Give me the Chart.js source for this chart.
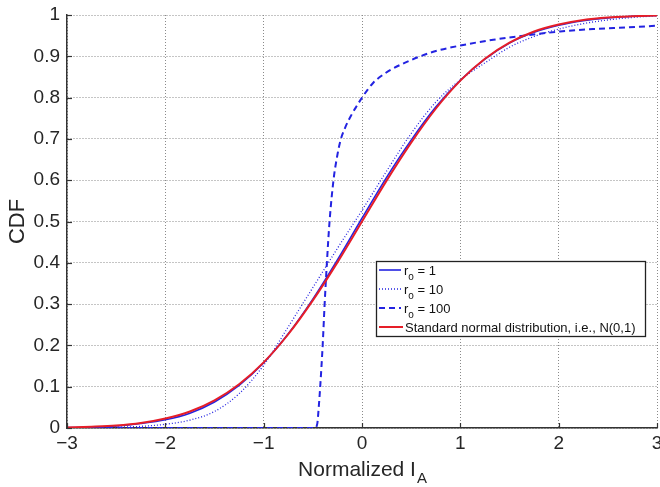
<!DOCTYPE html>
<html>
<head>
<meta charset="utf-8">
<script src="https://cdn.jsdelivr.net/npm/chart.js@4/dist/chart.umd.min.js"></script>
<style>
html,body{margin:0;padding:0;background:#fff;}
#c{display:block;}
</style>
</head>
<body>
<canvas id="c" width="660" height="487"></canvas>
<script>
// ---- data ----
const xGrid = [-3,-2.75,-2.5,-2.25,-2,-1.75,-1.5,-1.25,-1,-0.75,-0.5,-0.25,0,0.25,0.5,0.75,1,1.25,1.5,1.75,2,2.25,2.5,2.75,3];
const cdfR1 = [0.001,0.002,0.005,0.011,0.020,0.036,0.063,0.103,0.158,0.228,0.312,0.407,0.508,0.607,0.697,0.777,0.842,0.893,0.932,0.958,0.975,0.986,0.993,0.997,0.999];
const cdfR10 = [0.000,0.001,0.002,0.004,0.009,0.019,0.040,0.083,0.152,0.245,0.340,0.435,0.527,0.622,0.713,0.789,0.843,0.884,0.922,0.948,0.966,0.979,0.988,0.994,0.998];
const xR100 = [-3,-0.48,-0.455,-0.44,-0.425,-0.40,-0.38,-0.357,-0.33,-0.29,-0.255,-0.22,-0.17,-0.11,-0.05,0,0.06,0.115,0.2,0.29,0.49,0.725,1.0,1.335,1.675,2.015,2.35,2.69,3.0];
const cdfR100 = [0,0,0.01,0.05,0.10,0.20,0.30,0.40,0.50,0.60,0.655,0.695,0.728,0.757,0.781,0.80,0.82,0.836,0.853,0.867,0.89,0.911,0.926,0.94,0.951,0.96,0.966,0.97,0.974];
const cdfNormal = [0.001,0.003,0.006,0.012,0.023,0.040,0.067,0.106,0.159,0.227,0.309,0.401,0.500,0.599,0.691,0.773,0.841,0.894,0.933,0.960,0.977,0.988,0.994,0.997,0.999];
const xTickValues = [-3,-2,-1,0,1,2,3];
const yTickLabels = ['0','0.1','0.2','0.3','0.4','0.5','0.6','0.7','0.8','0.9','1'];
const legendLabels = [['r','o',' = 1'],['r','o',' = 10'],['r','o',' = 100'],['Standard normal distribution, i.e., N(0,1)','','']];

const BLUE = 'rgb(35,35,225)';
const RED = 'rgb(230,30,40)';
const AXIS = '#333';
const TEXT = '#262626';
const FONT = '"Liberation Sans", Arial, Helvetica, sans-serif';

const pts = (xs, ys) => xs.map((x, i) => ({x: x, y: ys[i]}));

const styles = [
  {color: BLUE, width: 1.6, dash: []},
  {color: BLUE, width: 1.3, dash: [1, 2]},
  {color: BLUE, width: 2, dash: [6, 4]},
  {color: RED, width: 2, dash: []}
];

const decor = {
  id: 'decor',
  afterDraw(chart) {
    const ctx = chart.ctx;
    const a = chart.chartArea;
    const xs = chart.scales.x, ys = chart.scales.y;
    ctx.save();
    // inward ticks
    ctx.strokeStyle = AXIS;
    ctx.lineWidth = 1.2;
    ctx.setLineDash([]);
    xTickValues.forEach(v => {
      const px = Math.round(xs.getPixelForValue(v)) + 0.5;
      ctx.beginPath(); ctx.moveTo(px, a.bottom); ctx.lineTo(px, a.bottom - 5); ctx.stroke();
    });
    yTickLabels.forEach(t => {
      const py = Math.round(ys.getPixelForValue(parseFloat(t))) + 0.5;
      ctx.beginPath(); ctx.moveTo(a.left, py); ctx.lineTo(a.left + 5, py); ctx.stroke();
    });
    // y title
    ctx.fillStyle = TEXT;
    ctx.font = '22px ' + FONT;
    ctx.textAlign = 'center';
    ctx.textBaseline = 'middle';
    ctx.save();
    ctx.translate(18, (a.top + a.bottom) / 2);
    ctx.rotate(-Math.PI / 2);
    ctx.fillText('CDF', 0, 0);
    ctx.restore();
    // x title with subscript
    ctx.font = '21px ' + FONT;
    const main = 'Normalized I';
    ctx.textBaseline = 'alphabetic';
    ctx.textAlign = 'left';
    const w1 = ctx.measureText(main).width;
    ctx.font = '15px ' + FONT;
    const w2 = ctx.measureText('A').width;
    const cx = (a.left + a.right) / 2;
    const sx = cx - (w1 + w2) / 2;
    ctx.font = '21px ' + FONT;
    ctx.fillText(main, sx, 476);
    ctx.font = '15px ' + FONT;
    ctx.fillText('A', sx + w1 + 1, 483);
    // legend
    const L = 376.5, T = 261.5, W = 269, H = 75;
    ctx.fillStyle = '#fff';
    ctx.fillRect(L, T, W, H);
    ctx.strokeStyle = '#222';
    ctx.lineWidth = 1.3;
    ctx.strokeRect(L, T, W, H);
    const rows = [270, 289, 308, 327];
    legendLabels.forEach((lab, i) => {
      const st = styles[i];
      const y = rows[i];
      ctx.strokeStyle = st.color;
      ctx.lineWidth = st.width;
      ctx.setLineDash(st.dash);
      ctx.beginPath();
      ctx.moveTo(379, y); ctx.lineTo(i === 3 ? 403 : 401, y); ctx.stroke();
      ctx.setLineDash([]);
      ctx.fillStyle = '#111';
      ctx.textBaseline = 'alphabetic';
      ctx.textAlign = 'left';
      let x = i === 3 ? 405 : 404;
      ctx.font = '13px ' + FONT;
      ctx.fillText(lab[0], x, y + 5);
      x += ctx.measureText(lab[0]).width;
      if (lab[1]) {
        ctx.font = '10px ' + FONT;
        ctx.fillText(lab[1], x, y + 10);
        x += ctx.measureText(lab[1]).width;
        ctx.font = '13px ' + FONT;
        ctx.fillText(lab[2], x, y + 5);
      }
    });
    ctx.restore();
  }
};

new Chart(document.getElementById('c'), {
  type: 'line',
  data: {
    datasets: [
      {label: 'r_o = 1', data: pts(xGrid, cdfR1), order: 2},
      {label: 'r_o = 10', data: pts(xGrid, cdfR10), order: 3},
      {label: 'r_o = 100', data: pts(xR100, cdfR100), order: 4},
      {label: 'Standard normal distribution, i.e., N(0,1)', data: pts(xGrid, cdfNormal), order: 1}
    ].map((d, i) => Object.assign(d, {
      borderColor: styles[i].color,
      borderWidth: styles[i].width,
      borderDash: styles[i].dash,
      pointRadius: 0,
      fill: false,
      cubicInterpolationMode: 'monotone'
    }))
  },
  options: {
    responsive: false,
    animation: false,
    devicePixelRatio: 1,
    layout: {padding: {top: 15, right: 3, left: 0, bottom: 0}},
    plugins: {legend: {display: false}, tooltip: {enabled: false}},
    scales: {
      x: {
        type: 'linear', min: -3, max: 3,
        afterBuildTicks: s => { s.ticks = xTickValues.map(v => ({value: v})); },
        ticks: {
          color: TEXT, font: {family: FONT, size: 19}, padding: 4,
          maxRotation: 0, autoSkip: false,
          callback: v => String(v).replace('-', '\u2212')
        },
        grid: {color: '#8a8a8a', lineWidth: 1, drawTicks: false},
        border: {display: true, color: AXIS, width: 1.5, dash: [1, 2]},
        afterFit: s => { s.height = 59; s.paddingLeft = 0; s.paddingRight = 0; }
      },
      y: {
        type: 'linear', min: 0, max: 1,
        afterBuildTicks: s => { s.ticks = yTickLabels.map(t => ({value: parseFloat(t)})); },
        ticks: {
          color: TEXT, font: {family: FONT, size: 19}, padding: 7,
          autoSkip: false,
          callback: (v, i) => yTickLabels[i]
        },
        grid: {color: '#8a8a8a', lineWidth: 1, drawTicks: false},
        border: {display: true, color: AXIS, width: 1.5, dash: [1, 2]},
        afterFit: s => { s.width = 67; s.paddingTop = 0; s.paddingBottom = 0; }
      }
    }
  },
  plugins: [decor]
});
</script>
</body>
</html>
